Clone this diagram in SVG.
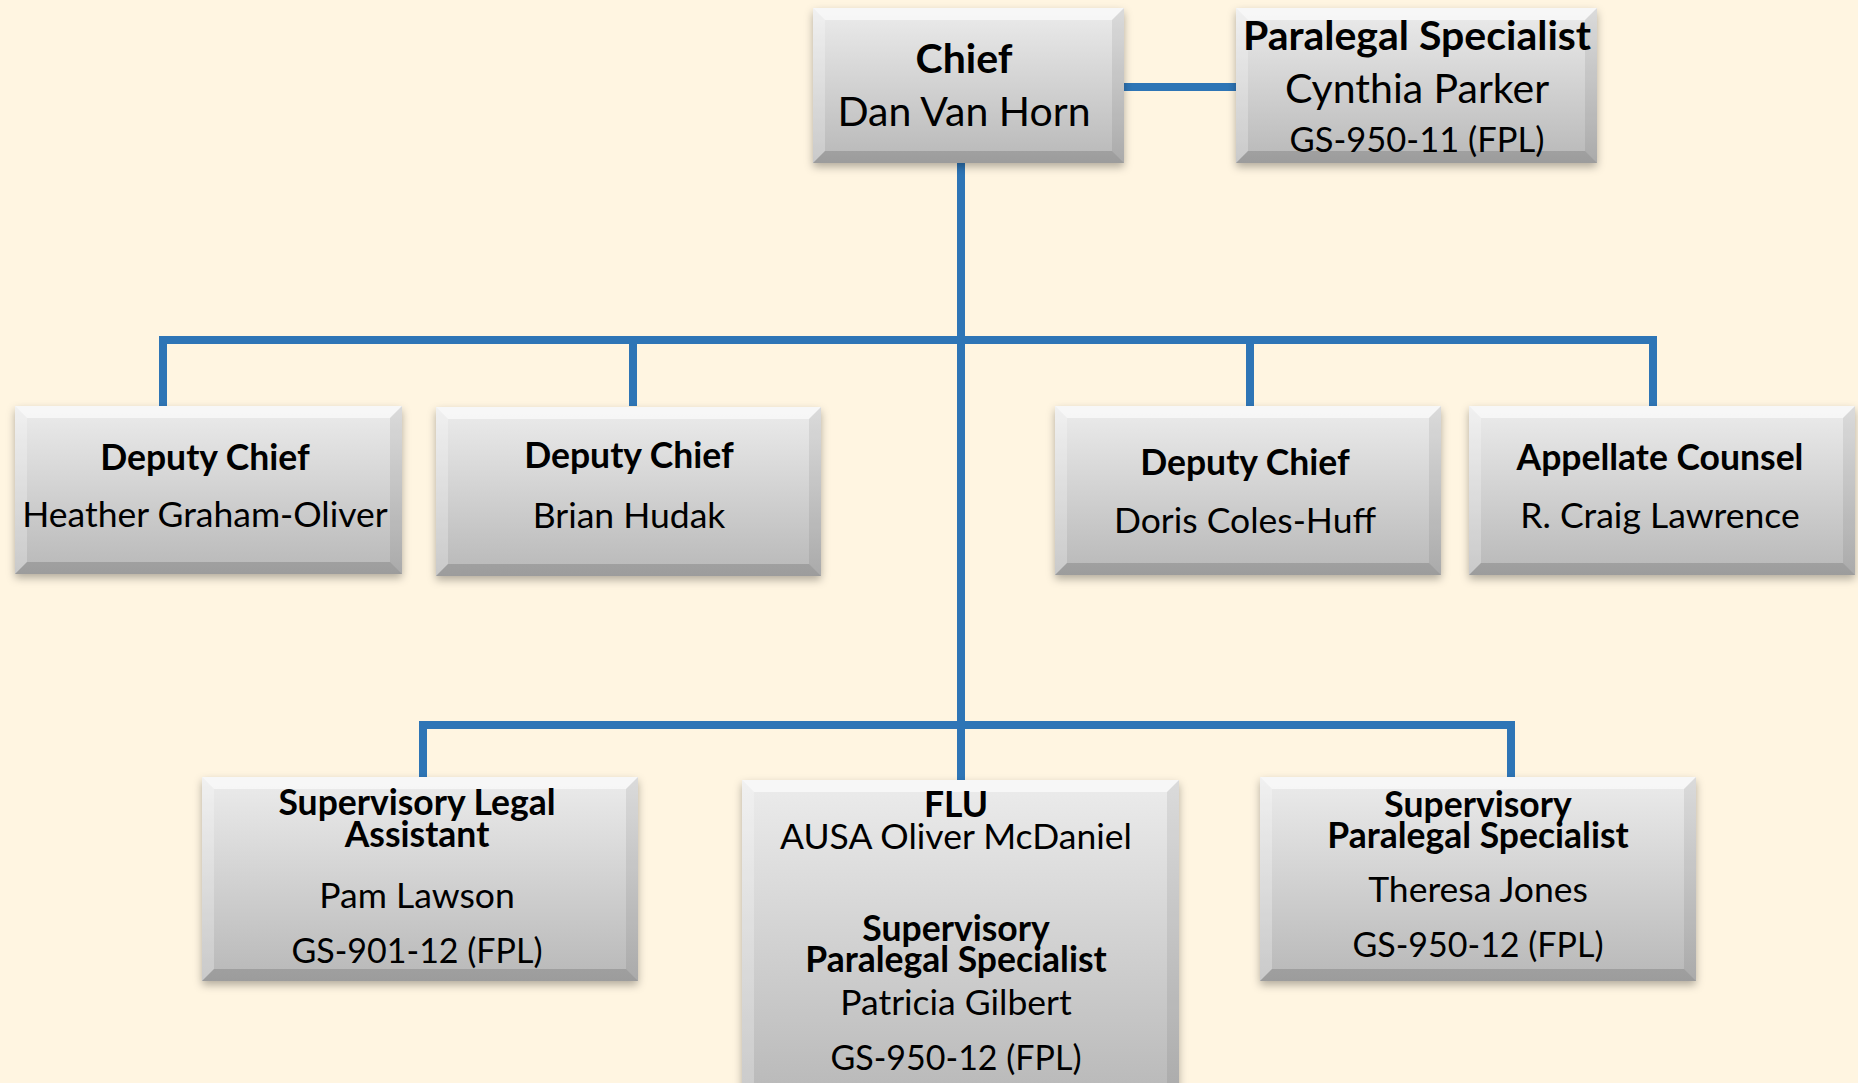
<svg xmlns="http://www.w3.org/2000/svg" width="1858" height="1083" viewBox="0 0 1858 1083">
<style>
.t{font-family:Lato,"Open Sans","Liberation Sans",sans-serif;fill:#000;text-anchor:middle}
.b{font-weight:bold}
.s44{font-size:41px}
.s39{font-size:34.5px}
.s38{font-size:35.5px}
.gs{font-size:34px}
.box{fill:url(#g);filter:url(#sh)}
.bt{fill:#fff;opacity:.6}
.bl{fill:#fff;opacity:.25}
.br{fill:#000;opacity:.07}
.bb{fill:#000;opacity:.15}
.c{stroke:#2E75B6;stroke-width:8;fill:none}
</style>
<defs>
<linearGradient id="g" x1="0" y1="0" x2="0" y2="1">
<stop offset="0" stop-color="#ececec"/>
<stop offset="1" stop-color="#b8b8b8"/>
</linearGradient>
<filter id="sh" x="-10%" y="-10%" width="120%" height="130%">
<feDropShadow dx="0" dy="4" stdDeviation="4" flood-color="#000" flood-opacity="0.3"/>
</filter>
</defs>
<rect width="1858" height="1083" fill="#FFF5E1"/>
<g id="connectors">
<path class="c" d="M1124 87H1236"/>
<path class="c" d="M961 163V780"/>
<path class="c" d="M163 406V340H1653V406"/>
<path class="c" d="M633 340V406"/>
<path class="c" d="M1250 340V406"/>
<path class="c" d="M423 777V725H1511V777"/>
</g>
<g id="chief">
<rect class="box" x="813" y="8" width="311" height="155"/>
<polygon class="bt" points="813,8 1124,8 1112,20 825,20"/>
<polygon class="bl" points="813,8 825,20 825,151 813,163"/>
<polygon class="br" points="1124,8 1124,163 1112,151 1112,20"/>
<polygon class="bb" points="813,163 825,151 1112,151 1124,163"/>
<text class="t b s44" x="964" y="73">Chief</text>
<text class="t s44" x="964" y="126">Dan Van Horn</text>
</g>
<g id="paralegal">
<rect class="box" x="1236" y="8" width="361" height="155"/>
<polygon class="bt" points="1236,8 1597,8 1585,20 1248,20"/>
<polygon class="bl" points="1236,8 1248,20 1248,151 1236,163"/>
<polygon class="br" points="1597,8 1597,163 1585,151 1585,20"/>
<polygon class="bb" points="1236,163 1248,151 1585,151 1597,163"/>
<text class="t b s44" x="1417" y="50">Paralegal Specialist</text>
<text class="t s44" x="1417" y="103">Cynthia Parker</text>
<text class="t s39" x="1417" y="152">GS-950-11 (FPL)</text>
</g>
<g id="deputy1">
<rect class="box" x="15" y="406" width="387" height="168"/>
<polygon class="bt" points="15,406 402,406 390,418 27,418"/>
<polygon class="bl" points="15,406 27,418 27,562 15,574"/>
<polygon class="br" points="402,406 402,574 390,562 390,418"/>
<polygon class="bb" points="15,574 27,562 390,562 402,574"/>
<text class="t b s38" x="205" y="470">Deputy Chief</text>
<text class="t s38" x="205" y="527">Heather Graham-Oliver</text>
</g>
<g id="deputy2">
<rect class="box" x="436" y="407" width="385" height="169"/>
<polygon class="bt" points="436,407 821,407 809,419 448,419"/>
<polygon class="bl" points="436,407 448,419 448,564 436,576"/>
<polygon class="br" points="821,407 821,576 809,564 809,419"/>
<polygon class="bb" points="436,576 448,564 809,564 821,576"/>
<text class="t b s38" x="629" y="468">Deputy Chief</text>
<text class="t s38" x="629" y="528">Brian Hudak</text>
</g>
<g id="deputy3">
<rect class="box" x="1055" y="406" width="386" height="169"/>
<polygon class="bt" points="1055,406 1441,406 1429,418 1067,418"/>
<polygon class="bl" points="1055,406 1067,418 1067,563 1055,575"/>
<polygon class="br" points="1441,406 1441,575 1429,563 1429,418"/>
<polygon class="bb" points="1055,575 1067,563 1429,563 1441,575"/>
<text class="t b s38" x="1245" y="475">Deputy Chief</text>
<text class="t s38" x="1245" y="533">Doris Coles-Huff</text>
</g>
<g id="appellate">
<rect class="box" x="1469" y="406" width="386" height="169"/>
<polygon class="bt" points="1469,406 1855,406 1843,418 1481,418"/>
<polygon class="bl" points="1469,406 1481,418 1481,563 1469,575"/>
<polygon class="br" points="1855,406 1855,575 1843,563 1843,418"/>
<polygon class="bb" points="1469,575 1481,563 1843,563 1855,575"/>
<text class="t b s38" x="1660" y="470">Appellate Counsel</text>
<text class="t s38" x="1660" y="528">R. Craig Lawrence</text>
</g>
<g id="legal-assistant">
<rect class="box" x="202" y="777" width="436" height="204"/>
<polygon class="bt" points="202,777 638,777 626,789 214,789"/>
<polygon class="bl" points="202,777 214,789 214,969 202,981"/>
<polygon class="br" points="638,777 638,981 626,969 626,789"/>
<polygon class="bb" points="202,981 214,969 626,969 638,981"/>
<text class="t b s38" x="417" y="815">Supervisory Legal</text>
<text class="t b s38" x="417" y="847">Assistant</text>
<text class="t s38" x="417" y="908">Pam Lawson</text>
<text class="t gs" x="417" y="963">GS-901-12 (FPL)</text>
</g>
<g id="flu">
<rect class="box" x="742" y="780" width="437" height="320"/>
<polygon class="bt" points="742,780 1179,780 1167,792 754,792"/>
<polygon class="bl" points="742,780 754,792 754,1100 742,1100"/>
<polygon class="br" points="1179,780 1179,1100 1167,1100 1167,792"/>
<text class="t b s38" x="956" y="817">FLU</text>
<text class="t s38" x="956" y="849">AUSA Oliver McDaniel</text>
<text class="t b s38" x="956" y="941">Supervisory</text>
<text class="t b s38" x="956" y="972">Paralegal Specialist</text>
<text class="t s38" x="956" y="1015">Patricia Gilbert</text>
<text class="t gs" x="956" y="1070">GS-950-12 (FPL)</text>
</g>
<g id="paralegal-supervisor">
<rect class="box" x="1260" y="777" width="436" height="204"/>
<polygon class="bt" points="1260,777 1696,777 1684,789 1272,789"/>
<polygon class="bl" points="1260,777 1272,789 1272,969 1260,981"/>
<polygon class="br" points="1696,777 1696,981 1684,969 1684,789"/>
<polygon class="bb" points="1260,981 1272,969 1684,969 1696,981"/>
<text class="t b s38" x="1478" y="817">Supervisory</text>
<text class="t b s38" x="1478" y="848">Paralegal Specialist</text>
<text class="t s38" x="1478" y="902">Theresa Jones</text>
<text class="t gs" x="1478" y="957">GS-950-12 (FPL)</text>
</g>
</svg>
